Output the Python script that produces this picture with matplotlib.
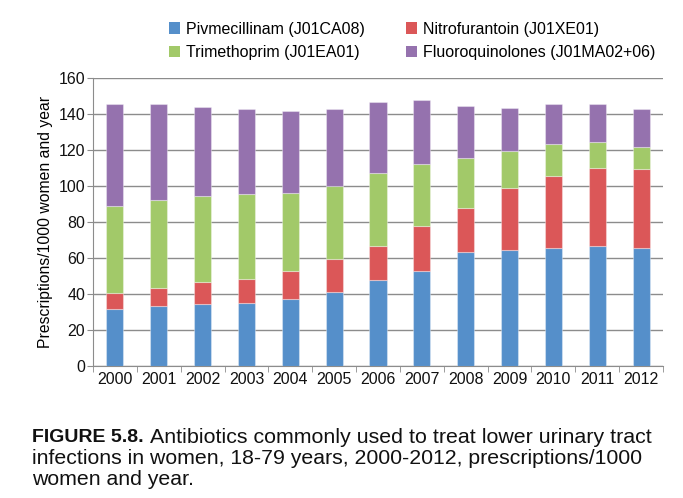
import numpy as np
import matplotlib.pyplot as plt
from matplotlib.patches import Patch

years = ["2000", "2001", "2002", "2003", "2004", "2005", "2006",
         "2007", "2008", "2009", "2010", "2011", "2012"]
pivmecillinam = [31.5, 33.3, 34.6, 35.0, 37.0, 41.3, 48.0, 52.8, 63.1, 64.3, 65.6, 66.7, 65.6]
nitrofurantoin = [8.9, 10.0, 12.1, 13.3, 15.8, 18.1, 18.7, 24.8, 24.9, 34.6, 40.0, 43.5, 44.0]
trimethoprim = [48.6, 48.9, 47.7, 47.4, 43.5, 40.6, 40.5, 34.4, 27.7, 20.5, 17.5, 14.2, 12.3]
fluoroquinolones = [56.7, 53.5, 49.3, 46.9, 45.2, 42.6, 39.7, 35.6, 28.9, 23.7, 22.6, 21.3, 20.7]

series = [
    ("Pivmecillinam (J01CA08)", pivmecillinam, "#558fca"),
    ("Nitrofurantoin (J01XE01)", nitrofurantoin, "#db5758"),
    ("Trimethoprim (J01EA01)", trimethoprim, "#a2c969"),
    ("Fluoroquinolones (J01MA02+06)", fluoroquinolones, "#9572ae"),
]

plt.rcParams['font.family'] = ['Liberation Sans', 'DejaVu Sans']

W, H = 683, 498
fig = plt.figure(figsize=(W / 100, H / 100), dpi=100)
ax = fig.add_axes([93 / W, 1 - 366 / H, 570 / W, 288 / H])

x = np.arange(len(years))
bottom = np.zeros(len(years))
for label, vals, color in series:
    vals = np.array(vals)
    ax.bar(x, vals, width=0.39, bottom=bottom, color=color,
           edgecolor=(1, 1, 1, 0.35), linewidth=0.8, zorder=3)
    bottom += vals

ax.set_xlim(-0.5, len(years) - 0.5)
ax.set_ylim(0, 160)
ax.set_yticks(np.arange(0, 161, 20))
ax.yaxis.grid(True, color="#8c8c8c", linewidth=1.0, zorder=0)
ax.set_xticks(x)
ax.set_xticklabels(years)
ax.set_xticks(np.arange(-0.5, len(years), 1), minor=True)
ax.tick_params(axis="x", which="major", length=0, labelsize=11.5, pad=4,
               labelcolor="#111111")
ax.tick_params(axis="x", which="minor", length=4, color="#8c8c8c")
ax.tick_params(axis="y", length=4, color="#8c8c8c", labelsize=11.5, pad=1.5,
               labelcolor="#111111")

for side in ["top", "right"]:
    ax.spines[side].set_visible(False)
for side in ["left", "bottom"]:
    ax.spines[side].set_color("#8c8c8c")

ax.set_ylabel("Prescriptions/1000 women and year", fontsize=11.3, labelpad=4)

# legend order: two rows, two columns
handles = [Patch(facecolor=c, label=l) for l, _, c in series]
handles = [handles[0], handles[2], handles[1], handles[3]]
fig.legend(handles=handles, ncol=2, loc="center",
           bbox_to_anchor=(412 / W, 1 - 41 / H), frameon=False, fontsize=11.5,
           handlelength=0.7, handleheight=0.7, handletextpad=0.35,
           columnspacing=2.6, labelspacing=0.55)

# caption
fig.text(32 / W, 1 - 437 / H, "FIGURE 5.8.", fontsize=14, fontweight="bold",
         va="center", color="#111111")
fig.text(150 / W, 1 - 437 / H, "Antibiotics commonly used to treat lower urinary tract",
         fontsize=15.4, va="center", color="#111111")
fig.text(32 / W, 1 - 458 / H,
         "infections in women, 18-79 years, 2000-2012, prescriptions/1000",
         fontsize=15.3, va="center", color="#111111")
fig.text(32 / W, 1 - 479 / H, "women and year.", fontsize=15.3, va="center",
         color="#111111")

fig.savefig("out.png", dpi=100)
